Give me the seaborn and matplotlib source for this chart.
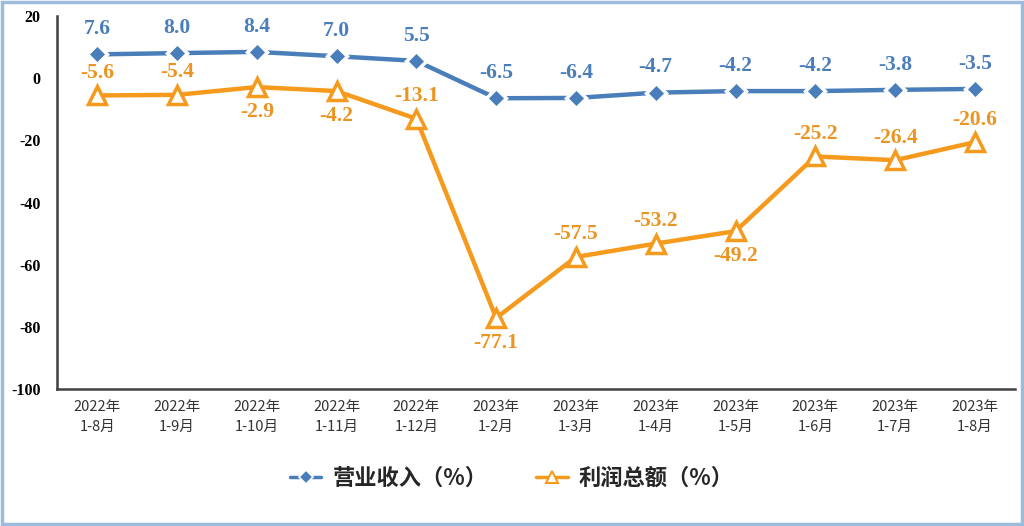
import pandas as pd
import numpy as np
import matplotlib
matplotlib.use("Agg")
import matplotlib.pyplot as plt
import seaborn as sns
from matplotlib.lines import Line2D

# ======== data ========
periods = ["2022年\n1-8月", "2022年\n1-9月", "2022年\n1-10月", "2022年\n1-11月", "2022年\n1-12月",
           "2023年\n1-2月", "2023年\n1-3月", "2023年\n1-4月", "2023年\n1-5月", "2023年\n1-6月",
           "2023年\n1-7月", "2023年\n1-8月"]
revenue = [7.6, 8.0, 8.4, 7.0, 5.5, -6.5, -6.4, -4.7, -4.2, -4.2, -3.8, -3.5]
profit = [-5.6, -5.4, -2.9, -4.2, -13.1, -77.1, -57.5, -53.2, -49.2, -25.2, -26.4, -20.6]
# where the profit label sits: 1 above the point, -1 below
profit_side = [1, 1, -1, -1, 1, -1, 1, 1, -1, 1, 1, 1]

revenue_name = "营业收入（%）"
profit_name = "利润总额（%）"

blue = "#4a7ebb"
orange = "#f59a1c"
orange_txt = "#ec9422"

df = pd.DataFrame({"idx": np.arange(len(periods)), "revenue": revenue, "profit": profit})

# ======== plot ========
sns.set_style("white")
plt.rcParams["font.family"] = ["Noto Sans CJK SC", "DejaVu Sans"]

fig = plt.figure(figsize=(10.24, 5.26), dpi=100)
ax = fig.add_axes([0.056, 0.26, 0.935, 0.71])

sns.lineplot(data=df, x="idx", y="revenue", ax=ax, color=blue, linewidth=3.2,
             marker="D", markersize=10, markeredgecolor="white", markeredgewidth=2.5, zorder=3)
sns.lineplot(data=df, x="idx", y="profit", ax=ax, color=orange, linewidth=3.2,
             marker="^", markersize=13, markerfacecolor="white", markeredgecolor=orange,
             markeredgewidth=2.5, zorder=3)

serif = "Liberation Serif"
for i, v in enumerate(revenue):
    ax.annotate(f"{v:.1f}", (i, v), xytext=(0, 11), textcoords="offset points",
                ha="center", va="bottom", color=blue, fontsize=15.5, fontweight="bold", family=serif)
for i, v in enumerate(profit):
    off = 9 if profit_side[i] > 0 else -11
    ax.annotate(f"{v:.1f}", (i, v), xytext=(0, off), textcoords="offset points",
                ha="center", va="bottom" if profit_side[i] > 0 else "top",
                color=orange_txt, fontsize=15.5, fontweight="bold", family=serif)

ax.set_xlim(-0.5, len(periods) - 0.5)
ax.set_ylim(-100, 20)
ax.set_yticks(range(-100, 21, 20))
ax.set_yticklabels([str(t) for t in range(-100, 21, 20)], family=serif, fontweight="bold",
                   fontsize=11.5, color="black")
ax.set_xticks(range(len(periods)))
ax.set_xticklabels(periods, fontsize=10.5, color="#333333", linespacing=1.5)
ax.set_xlabel("")
ax.set_ylabel("")
ax.tick_params(axis="both", length=0, pad=8)
ax.tick_params(axis="y", pad=12)

for s in ["top", "right"]:
    ax.spines[s].set_visible(False)
for s in ["left", "bottom"]:
    ax.spines[s].set_color("#404040")
    ax.spines[s].set_linewidth(1.8)

handles = [
    Line2D([], [], color=blue, linewidth=2.5, marker="D", markersize=7,
           markeredgecolor="white", markeredgewidth=1.2),
    Line2D([], [], color=orange, linewidth=2.5, marker="^", markersize=8,
           markerfacecolor="white", markeredgecolor=orange, markeredgewidth=1.5),
]
fig.legend(handles, [revenue_name, profit_name], loc="center", bbox_to_anchor=(0.5, 0.09),
           ncol=2, frameon=False, handlelength=1.4, columnspacing=2.2, handletextpad=0.5,
           prop={"family": ["Noto Sans CJK SC", "DejaVu Sans"], "weight": "bold", "size": 16})

# light blue frame round the whole picture
fig.patches.append(plt.Rectangle((0.002, 0.003), 0.996, 0.994, transform=fig.transFigure,
                                 fill=False, edgecolor="#9dbbdc", linewidth=2.5))

fig.savefig("out.png", dpi=100)
